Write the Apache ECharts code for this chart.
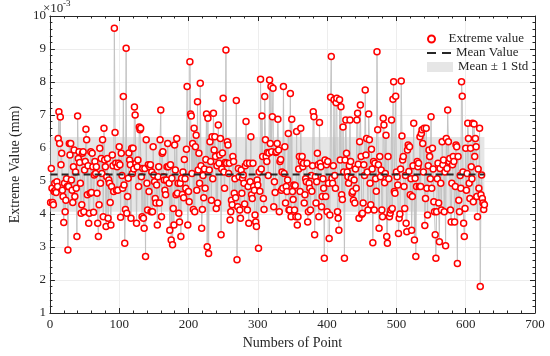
<!DOCTYPE html>
<html><head><meta charset="utf-8">
<script src="https://cdn.jsdelivr.net/npm/echarts@6/dist/echarts.min.js"></script>
<style>html,body{margin:0;padding:0;background:#fff}#c{width:550px;height:356px}</style>
</head><body><div id="c"></div>
<script>
// Extreme values (x10^-3 mm) in order of point number
const segA = [4.35,5.38,4.78,4.35,4.28,4.68,4.93,4.72,4.65,4.98,4.83,6.29,7.10,
6.14,6.94,5.49,5.84,4.72,4.53,3.74,4.93,4.07,4.42,5.07,4.83,2.91,
4.83,6.14,5.79,6.14,5.03,4.72,4.35,5.43,5.94,4.53,5.27,4.78,3.32,6.97,
5.68,5.89,5.56,4.93,4.02,4.28,5.84,5.89,4.07,5.33,5.59,6.57,6.25,4.58,5.46,3.72,4.02,4.63,5.89,4.65,5.84,5.43,4.05,5.18,5.59,5.23,5.43,4.63,3.72,
3.32,4.28,5.99,4.93,5.68,5.23,6.25,3.92,6.60];
const segB = [5.64,5.43,3.62,5.13,5.68,3.87,5.03,4.93,4.35,3.67,4.83,5.79,5.46,4.68,
9.63,6.47,5.54,4.72,5.43,4.72,5.54,6.04,5.49,3.90,5.84,5.17,4.78,7.56,4.88,3.11,4.14,9.02,4.02,4.53,
5.08,5.85,5.64,5.49,3.87,5.99,5.23,5.99,5.36,7.24,7.00,5.54,3.72,5.43,5.64,4.83,6.64,6.55,6.60,5.13,
3.92,5.38,3.87,3.57,5.38,2.71,6.25,4.93,4.12,5.49,4.68,5.43,5.49,4.07,5.27,4.07,6.04,5.18,4.98,4.47,
4.33,4.88,3.67,5.13,5.43,4.33];
const segC = [6.25,7.15,3.92,5.84,5.89,5.13,5.03,4.72,4.58,5.03,
5.43,6.14,5.43,4.93,3.51,5.49,3.21,5.08,3.07,4.17,
3.67,6.09,5.33,4.58,6.29,4.63,4.93,4.02,3.76,4.93,
3.32,5.08,4.59,5.27,4.49,5.65,5.07,4.78,5.96,7.86,
3.67,4.68,4.37,8.61,7.03,6.97,5.23,6.14,4.14,6.60,
4.07,6.04,6.39,4.72,7.40,5.33,5.84,4.93,7.96,5.46,
3.57,4.14,5.17,4.49,5.36,4.78,5.65,7.03,3.01,6.90,
2.80,5.33,6.19,5.59,4.42,6.34,5.07,7.05,5.94];
const segD = [6.34,5.74,4.17,5.46,4.33,6.70,5.54,5.79,6.29,3.37,
5.36,5.85,7.51,5.27,4.78,5.56,8.97,5.54,6.19,6.09,
5.23,5.54,3.82,4.07,4.42,4.28,5.74,5.59,4.63,5.07,
4.49,7.44,2.61,4.22,5.38,5.13,4.12,3.87,5.33,4.63,
5.08,5.18,4.93,4.30,5.46,6.80,5.54,4.12,4.83,3.72,
5.54,4.98,6.34,4.58,4.47,5.54,4.83,4.72,3.97,3.76,
3.62,5.03,4.88,2.96,5.27,4.69,8.08,5.36,6.97,5.74,
4.47,4.14,7.56,6.25,5.74,5.59,5.86,5.17,5.85];
const segE = [8.06,6.14,7.86,5.89,6.95,7.81,4.22,4.98,4.65,5.86,
5.89,6.14,6.87,5.94,4.07,5.59,5.65,4.72,5.27,4.78,
7.86,5.23,6.04,4.33,4.83,4.68,5.03,6.44,4.12,4.12,
7.65,3.92,6.87,4.68,4.44,4.88,4.12,4.86,3.92,6.50,
3.67,3.92,5.36,5.74,4.68,6.60,5.59,5.74,5.43,5.54,
4.33,4.58,5.07,4.98,5.54,3.76,4.07,4.93,4.78,4.12,
5.17,4.69,5.46,7.10,6.95,3.37,5.13,4.33,4.98,5.84,
5.49,3.92,6.77,5.54,5.43,4.22,4.53,5.07,4.78,2.66];
const segF = [5.64,4.53,5.49,4.07,5.59,4.93,3.26,3.97,7.54,8.77,
5.08,4.93,5.46,7.46,5.17,4.78,7.37,7.51,4.07,3.87,
3.51,7.46,5.64,7.25,4.58,4.44,6.64,5.27,2.66,5.64,
6.85,5.84,5.27,5.13,4.93,5.46,6.85,5.59,5.08,4.63,
4.68,4.42,5.03,4.33,5.36,4.78,6.85,7.05,5.51,3.87,
6.19,7.30,5.74,3.99,4.02,4.33,5.49,5.17,7.76,5.79,
6.29,5.27,4.12,7.03,6.25,4.93,4.28,5.96,5.36,3.13,
5.59,4.12,5.54,5.07,4.69,8.92,6.55,5.49];
const segG = [3.57,5.74,5.13,5.33,4.12,3.92,6.90,6.70,4.95,5.23,
6.39,3.32,3.11,5.74,5.07,3.92,4.02,4.12,6.85,4.17,
7.48,8.01,4.68,4.63,7.57,5.27,5.13,4.88,3.41,3.87,
4.00,5.36,8.03,6.36,5.64,5.74,4.83,4.17,5.17,3.72,
3.46,5.94,6.09,5.29,6.04,4.58,5.07,3.51,4.53,5.46,
6.75,3.21,5.08,2.71,4.83,5.59,5.43,5.54,4.83,6.34,
4.83,6.44,6.55,6.14,5.27,6.60,3.65,4.47,6.60,4.78,
3.97,5.46,5.94,5.74,5.07,6.95,4.78,5.99,5.36,4.37,
4.07,3.37];
const segH = [2.66,4.07,5.07,5.54,4.33,3.16,5.38,4.93,4.12,6.19,
5.49,5.64,4.07,5.27,3.04,6.29,5.38,7.15,6.19,5.59,
5.68,4.12,3.76,4.93,5.49,5.74,5.59,3.76,4.83,6.09,
6.04,2.50,5.74,4.42,4.07,5.17,4.78,8.01,7.57,5.27,
3.72,3.32,4.17,5.99,4.72,5.23,6.75,6.29,4.93,4.47,
5.99,5.43,5.07,6.75,4.37,6.73,5.74,6.29,6.04,4.53,
3.92,5.36,4.78,6.60,1.80,4.58,5.18,4.47,4.33,4.14,
4.28];

const meanValue = 5.20;
const stdValue = 1.13;    // half height of the grey band
const xTickValues = [0,100,200,300,400,500,600,700];
const yTickValues = [1,2,3,4,5,6,7,8,9,10];

const extremeValues = [].concat(segA,segB,segC,segD,segE,segF,segG,segH);
const N = extremeValues.length;
const pts = extremeValues.map((v,i)=>[i+1,v]);

const font = '"Liberation Serif","Times New Roman",serif';
const ink = '#262626';
const xMin = xTickValues[0], xMax = xTickValues[xTickValues.length-1];
const yMin = yTickValues[0], yMax = yTickValues[yTickValues.length-1];

function axisBase(pos, showLabel, showSplit){
  return {
    type:'value', position:pos, gridIndex:0,
    axisLine:{show:true,onZero:false,lineStyle:{color:ink,width:1}},
    axisTick:{show:true,inside:true,length:5,lineStyle:{color:ink,width:1}},
    minorTick:{show:true,splitNumber:5,length:2.5,lineStyle:{color:ink,width:1}},
    axisLabel:{show:showLabel,color:ink,fontFamily:font,fontSize:13},
    splitLine:{show:showSplit,lineStyle:{color:'#ededed',width:1}},
    minorSplitLine:{show:false}
  };
}

const xb = Object.assign(axisBase('bottom',true,true),{min:xMin,max:xMax,interval:100,
  name:'Numbers of Point',nameLocation:'middle',nameGap:20,
  nameTextStyle:{color:ink,fontFamily:font,fontSize:14}});
xb.axisLabel.margin = 5;
const xt = Object.assign(axisBase('top',false,false),{min:xMin,max:xMax,interval:100});
const yl = Object.assign(axisBase('left',true,true),{min:yMin,max:yMax,interval:1,
  name:'Extreme Value (mm)',nameLocation:'middle',nameGap:22,
  nameTextStyle:{color:ink,fontFamily:font,fontSize:14}});
yl.axisLabel.margin = 4;
const yr = Object.assign(axisBase('right',false,false),{min:yMin,max:yMax,interval:1});

const chart = echarts.init(document.getElementById('c'),null,{renderer:'canvas'});
chart.setOption({
  animation:false,
  backgroundColor:'#fff',
  grid:{left:42,right:15,top:16,bottom:43,containLabel:false},
  xAxis:[xb,xt],
  yAxis:[yl,yr],
  legend:[
    {data:[{name:'Extreme value',icon:'circle',itemStyle:{color:'#fff',borderColor:'#ff0000',borderWidth:2}}],
     left:427,top:32,padding:0,itemWidth:24,itemHeight:7,selectedMode:false,
     textStyle:{fontFamily:font,fontSize:13,color:ink,lineHeight:14}},
    {data:[{name:'Mean Value',icon:'path://M0,0h9v2h-9z M15,0h9v2h-9z',itemStyle:{color:ink,borderWidth:0}}],
     left:427,top:46,padding:0,itemWidth:24,itemHeight:2,selectedMode:false,
     textStyle:{fontFamily:font,fontSize:13,color:ink,lineHeight:14}},
    {data:[{name:'Mean ± 1 Std',icon:'rect',itemStyle:{color:'#e6e6e6',borderWidth:0}}],
     left:427,top:60,padding:0,itemWidth:26,itemHeight:10,selectedMode:false,
     textStyle:{fontFamily:font,fontSize:13,color:ink,lineHeight:14}}
  ],
  graphic:[
    {type:'text',left:43,top:2,style:{text:'×10',font:'13px "Liberation Serif"',fill:ink}},
    {type:'text',left:63,top:-1,style:{text:'-3',font:'9px "Liberation Serif"',fill:ink}}
  ],
  series:[
    {type:'line',name:'Mean ± 1 Std',xAxisIndex:0,yAxisIndex:0,z:1,silent:true,
     data:[[1,meanValue],[N,meanValue]],symbol:'none',lineStyle:{width:0,opacity:0},
     markArea:{silent:true,itemStyle:{color:'#e6e6e6'},
       data:[[{coord:[1,meanValue-stdValue]},{coord:[N,meanValue+stdValue]}]]}},
    {type:'line',name:'Extreme value',xAxisIndex:0,yAxisIndex:0,z:2,
     data:pts,symbol:'circle',symbolSize:6,showAllSymbol:true,
     lineStyle:{color:'#c3c3c3',width:1},
     itemStyle:{color:'#ffffff',borderColor:'#ff0000',borderWidth:1.5}},
    {type:'line',name:'Mean Value',xAxisIndex:0,yAxisIndex:0,z:3,silent:true,
     data:[[1,meanValue],[N,meanValue]],symbol:'none',
     lineStyle:{color:ink,width:2,type:[7,4]}}
  ]
});
</script></body></html>
